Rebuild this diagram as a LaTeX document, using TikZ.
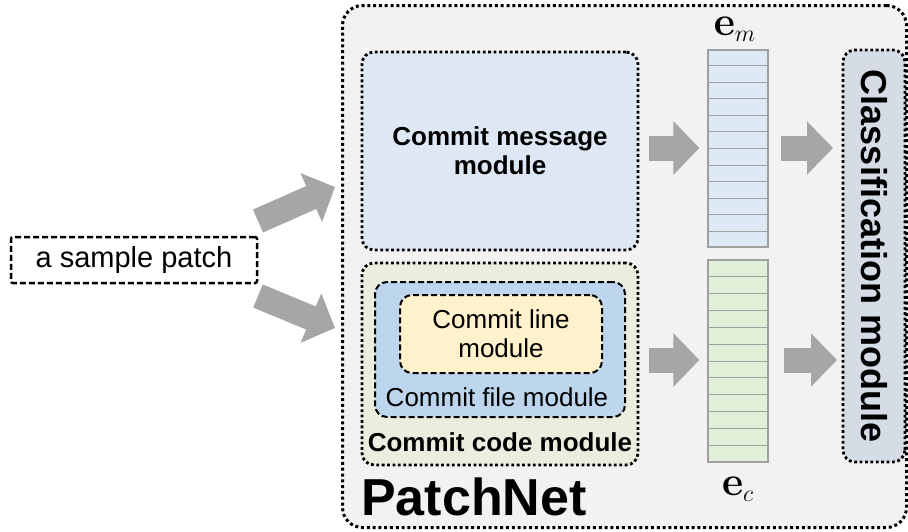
\documentclass[tikz,border=0pt]{standalone}
\usepackage[no-math]{fontspec}
\usepackage{graphicx}
\setmainfont{Liberation Sans}
\usetikzlibrary{arrows.meta,calc}

\definecolor{outerfill}{HTML}{F2F2F2}
\definecolor{msgfill}{HTML}{DDE8F4}
\definecolor{codefill}{HTML}{EBEEDF}
\definecolor{filefill}{HTML}{BDD5ED}
\definecolor{linefill}{HTML}{FFF1CC}
\definecolor{clsfill}{HTML}{D6DCE5}
\definecolor{emfill}{HTML}{DDE9F5}
\definecolor{ecfill}{HTML}{E2EFD9}
\definecolor{arrowgray}{HTML}{A6A6A6}
\definecolor{cellgray}{HTML}{A0A0A0}

\tikzset{
  box/.style={draw, line width=2.8pt, rounded corners=12pt, inner sep=0pt, anchor=center},
  dotbox/.style={box, dash pattern=on 2.8pt off 2.6pt},
  dashbox/.style={box, dash pattern=on 6pt off 3pt},
  modtext/.style={font=\fontsize{26}{29}\selectfont, align=center, inner sep=0pt},
  vec/.style={draw=cellgray, line width=1.2pt, minimum width=60pt, inner sep=0pt},
  cellline/.style={draw=cellgray, line width=1pt},
  flow/.style={draw=arrowgray, line width=25pt, -{Triangle[width=52pt,length=26pt]}},
  veclabel/.style={inner sep=0pt},
}
% bold vector symbol with a large italic index
\newcommand\vecsym[1]{\scalebox{1.65}{\fontsize{24.88}{25}\selectfont$\mathbf{e}_{\mbox{\fontsize{14.4}{15}\selectfont$#1$}}$}}

\begin{document}
\begin{tikzpicture}[x=1pt,y=-1pt]
\useasboundingbox (0,0) rectangle (908,531);

% PatchNet container
\node[dotbox, line width=3pt, dash pattern=on 3pt off 2.8pt, rounded corners=20pt,
      fill=outerfill, minimum width=564pt, minimum height=522pt] (net) at (624.5,266.5) {};
\node[anchor=west, inner sep=0pt, font=\fontsize{52}{52}\selectfont\bfseries] (netlabel) at (361,497) {PatchNet};

% input
\node[dashbox, line width=2.5pt, rounded corners=2pt, minimum width=246pt, minimum height=46pt,
      font=\fontsize{29}{30}\selectfont] (patch) at (134,260) {a sample patch};

% commit message module
\node[dotbox, fill=msgfill, minimum width=276pt, minimum height=198pt,
      modtext, font=\fontsize{26}{29}\selectfont\bfseries] (msg) at (500,151) {Commit message\\module};

% commit code module with nested file and line modules
\node[dotbox, fill=codefill, minimum width=276pt, minimum height=202pt] (code) at (500,364) {};
\node[dashbox, line width=2pt, fill=filefill, minimum width=250pt, minimum height=135pt] (file) at (500,349.5) {};
\node[dashbox, line width=2pt, fill=linefill, minimum width=202pt, minimum height=78pt,
      modtext] (line) at (501,334) {Commit line\\module};
\node[modtext] (filelabel) at (497,397) {Commit file module};
\node[modtext, font=\fontsize{26}{29}\selectfont\bfseries] (codelabel) at (500,442) {Commit code module};

% embedding vectors
\node[vec, fill=emfill, minimum height=197pt] (em) at (738,148.5) {};
\node[vec, fill=ecfill, minimum height=202pt] (ec) at (738,361) {};
\foreach \v in {em,ec}{
  \foreach \i in {1,...,11}
    \draw[cellline] ($(\v.north west)!\i/12!(\v.south west)$) -- ($(\v.north east)!\i/12!(\v.south east)$);
}
\node[veclabel] (emlabel) at (735,29) {\vecsym{m}};
\node[veclabel] (eclabel) at (738,489) {\vecsym{c}};

% classification module
\node[dotbox, fill=clsfill, rotate=-90, minimum width=412pt, minimum height=62pt,
      font=\fontsize{36}{36}\selectfont\bfseries] (cls) at (874,256) {Classification module};

% flow arrows
\coordinate (in1s) at (258,221);  \coordinate (in1e) at (335,187);
\coordinate (in2s) at (258,296);  \coordinate (in2e) at (335,328);
\draw[flow] (in1s) -- (in1e);
\draw[flow] (in2s) -- (in2e);
\draw[flow] ($(msg.east)+(10,-3)$) -- ($(em.west)+(-8,-0.5)$);
\draw[flow] ($(em.east)+(12,-0.5)$) -- ($(cls.center)+(-41,-108)$);
\draw[flow] ($(code.east)+(10,-4)$) -- ($(ec.west)+(-8,-1)$);
\draw[flow] ($(ec.east)+(15,-1)$) -- ($(cls.center)+(-37,104)$);
\end{tikzpicture}
\end{document}
